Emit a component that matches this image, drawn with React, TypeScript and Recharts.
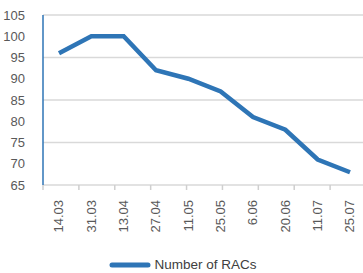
import React from "react";
import { LineChart, Line, XAxis, YAxis, CartesianGrid, Legend } from "recharts";

const dates = ["14.03", "31.03", "13.04", "27.04", "11.05", "25.05", "6.06", "20.06", "11.07", "25.07"];
const racs = [96, 100, 100, 92, 90, 87, 81, 78, 71, 68];
const yTicks = [65, 70, 75, 80, 85, 90, 95, 100, 105];
const boundaries = [0, 1, 2, 3, 4, 5, 6, 7, 8, 9, 10];

const data = dates.map((d, i) => ({ date: d, racs: racs[i] }));

const BLUE = "#2E75B6";
const FONT = "'Liberation Sans', Arial, sans-serif";

const renderLegend = () => (
  <div style={{ display: "flex", justifyContent: "center", alignItems: "center", fontFamily: FONT, paddingTop: 17 }}>
    <svg width={42} height={8} style={{ marginRight: 3 }}>
      <line x1={3} y1={4} x2={39} y2={4} stroke={BLUE} strokeWidth={5} strokeLinecap="round" />
    </svg>
    <span style={{ fontSize: 13.5, color: "#404040" }}>Number of RACs</span>
  </div>
);

const App = () => {
  return (
    <div style={{ position: "absolute", left: 0, top: 0 }}>
      <LineChart width={366} height={273} data={data} margin={{ top: 15, right: 0, left: 0, bottom: 0 }}>
        <CartesianGrid vertical={false} stroke="#d9d9d9" strokeWidth={1.5} />
        {/* boundary tick marks between categories */}
        <XAxis
          xAxisId="a_ticks"
          type="number"
          domain={[0, 10]}
          ticks={boundaries}
          allowDataOverflow
          height={1}
          axisLine={false}
          tickLine={{ stroke: "#cfcfcf", strokeWidth: 1.5 }}
          tickSize={5}
          tickFormatter={() => ""}
        />
        <XAxis
          dataKey="date"
          xAxisId="b_main"
          interval={0}
          height={54}
          padding={{ left: 16, right: 16 }}
          axisLine={false}
          tickLine={false}
          tickMargin={8}
          angle={-90}
          textAnchor="end"
          tick={{ fill: "#595959", fontSize: 13, fontFamily: FONT, dx: -5 }}
        />
        <YAxis
          domain={[65, 105]}
          ticks={yTicks}
          width={43}
          axisLine={{ stroke: BLUE, strokeWidth: 1.5 }}
          tickLine={false}
          tickMargin={12}
          tick={{ fill: "#595959", fontSize: 13, fontFamily: FONT }}
        />
        <Legend verticalAlign="bottom" height={33} content={renderLegend} />
        <Line
          xAxisId="b_main"
          type="linear"
          dataKey="racs"
          stroke={BLUE}
          strokeWidth={4.5}
          dot={false}
          isAnimationActive={false}
        />
      </LineChart>
    </div>
  );
};

export default App;
